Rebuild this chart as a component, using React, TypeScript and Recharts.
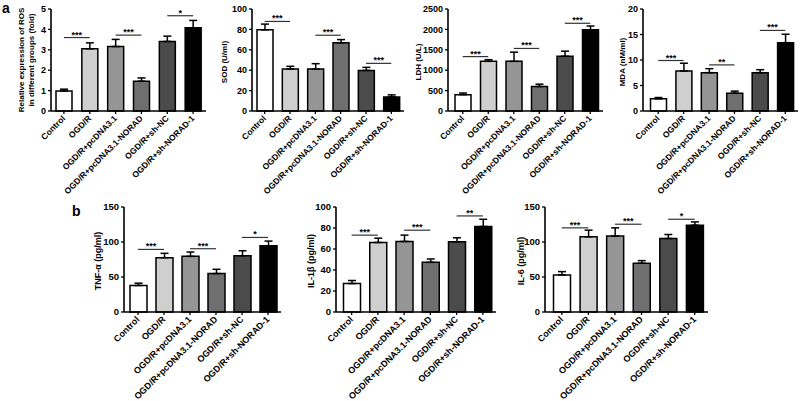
import React from 'react';
import { BarChart, Bar, XAxis, YAxis, ErrorBar, Cell, ReferenceLine } from 'recharts';

const FONT = '"Liberation Sans", Arial, sans-serif';

const groups = ['Control', 'OGD/R', 'OGD/R+pcDNA3.1', 'OGD/R+pcDNA3.1-NORAD', 'OGD/R+sh-NC', 'OGD/R+sh-NORAD-1'];
const barFills = ['#ffffff', '#cfcfcf', '#959595', '#6f6f6f', '#4b4b4b', '#000000'];

const rosMean = [0.98, 3.05, 3.16, 1.46, 3.41, 4.08];
const rosErr = [0.09, 0.29, 0.35, 0.16, 0.26, 0.36];
const rosSigY = [3.6, 3.72, 4.67];
const rosSigText = ['***', '***', '*'];
const rosTicks = [0, 1, 2, 3, 4, 5];

const sodMean = [79.6, 41.1, 41.1, 66.8, 39.8, 13.8];
const sodErr = [5.6, 2.7, 5.3, 3.2, 3.0, 2.0];
const sodSigY = [87.8, 74.3, 46.7];
const sodSigText = ['***', '***', '***'];
const sodTicks = [0, 20, 40, 60, 80, 100];

const ldhMean = [400, 1217, 1217, 600, 1342, 1992];
const ldhErr = [40, 41, 225, 58, 125, 91];
const ldhSigY = [1333, 1533, 2150];
const ldhSigText = ['***', '***', '***'];
const ldhTicks = [0, 500, 1000, 1500, 2000, 2500];

const mdaMean = [2.38, 7.85, 7.52, 3.5, 7.52, 13.4];
const mdaErr = [0.26, 1.52, 0.78, 0.4, 0.58, 1.65];
const mdaSigY = [9.9, 9.04, 15.8];
const mdaSigText = ['***', '**', '***'];
const mdaTicks = [0, 5, 10, 15, 20];

const tnfMean = [37.9, 77.6, 79.5, 54.9, 80.4, 94.6];
const tnfErr = [3.3, 6.2, 6.2, 6.1, 7.1, 6.7];
const tnfSigY = [89.4, 90.4, 106.5];
const tnfSigText = ['***', '***', '*'];
const tnfTicks = [0, 50, 100, 150];

const il1bMean = [27.1, 66.2, 67.2, 47.3, 66.9, 81.4];
const il1bErr = [2.9, 4.1, 6.0, 3.2, 3.8, 6.9];
const il1bSigY = [73.2, 77.9, 91.5];
const il1bSigText = ['***', '***', '**'];
const il1bTicks = [0, 20, 40, 60, 80, 100];

const il6Mean = [53, 107.4, 108.4, 69.6, 105, 124];
const il6Err = [4.7, 9.5, 11.8, 3.8, 5.7, 4.7];
const il6SigY = [120.2, 125.4, 132.5];
const il6SigText = ['***', '***', '*'];
const il6Ticks = [0, 50, 100, 150];

const makeXTick = (fs: number) => (props: any) => {
  const { x, y, payload } = props;
  const px = x + 2;
  const py = y + 3;
  return (
    <text x={px} y={py} transform={`rotate(-45 ${px} ${py})`} textAnchor="end" fontSize={fs}
      fontWeight="bold" fill="#000" fontFamily={FONT}>{payload.value}</text>
  );
};

type PanelProps = {
  mean: number[]; err: number[]; sigY: number[]; sigText: string[]; ticks: number[];
  axisX: number; chartTop: number; plotTop: number; plotH: number; plotW: number; padLeft: number; barSize: number;
  fs: number; xfs: number;
};

function Panel(p: PanelProps) {
  const data = groups.map((g, i) => ({ name: g, mean: p.mean[i], err: [0, p.err[i]] }));
  const yW = 40;
  const H = 201;
  const marginTop = p.plotTop - p.chartTop;
  const xH = H - marginTop - p.plotH;
  const XTick = makeXTick(p.xfs);
  return (
    <div style={{ position: 'absolute', left: p.axisX - yW, top: p.chartTop }}>
      <BarChart width={yW + p.plotW + 2} height={H} data={data}
        margin={{ top: marginTop, right: 2, left: 0, bottom: 0 }}>
        <XAxis dataKey="name" height={xH} interval={0} tick={<XTick />} tickSize={3}
          axisLine={{ stroke: '#000', strokeWidth: 1.6 }} tickLine={{ stroke: '#000', strokeWidth: 1.3 }}
          padding={{ left: p.padLeft, right: 0 }} />
        <YAxis width={yW} domain={[0, p.ticks[p.ticks.length - 1]]} ticks={p.ticks} interval={0}
          tick={{ fontSize: p.fs, fontWeight: 'bold', fill: '#000', fontFamily: FONT }} tickSize={3}
          axisLine={{ stroke: '#000', strokeWidth: 1.6 }} tickLine={{ stroke: '#000', strokeWidth: 1.3 }} />
        <Bar dataKey="mean" barSize={p.barSize} stroke="#000" strokeWidth={1.5} isAnimationActive={false}>
          {data.map((d, i) => <Cell key={i} fill={barFills[i]} />)}
          <ErrorBar dataKey="err" width={4} stroke="#000" strokeWidth={1.5} direction="y" isAnimationActive={false} />
        </Bar>
        {p.sigY.map((v, k) => (
          <ReferenceLine key={k} segment={[{ x: groups[2 * k], y: v }, { x: groups[2 * k + 1], y: v }]}
            stroke="#333" strokeWidth={1.2}
            label={{ value: p.sigText[k], position: 'top', offset: 0, fontSize: 9, fontWeight: 'bold', fill: '#000', fontFamily: FONT }} />
        ))}
      </BarChart>
    </div>
  );
}

function VTitle({ x, y, text, fs }: { x: number; y: number; text: string; fs: number }) {
  return (
    <text x={x} y={y} transform={`rotate(-90 ${x} ${y})`} textAnchor="middle" dominantBaseline="central"
      fontSize={fs} fontWeight="bold" fill="#000" fontFamily={FONT}>{text}</text>
  );
}

export default function App() {
  const top = { chartTop: 0, plotTop: 9, plotH: 102, fs: 9, xfs: 8.5 };
  const bot = { chartTop: 200, plotTop: 207, plotH: 105, fs: 9.5, xfs: 9 };
  return (
    <div style={{ position: 'fixed', left: 0, top: 0, width: 800, height: 401, background: '#fff', overflow: 'hidden' }}>
      <Panel mean={rosMean} err={rosErr} sigY={rosSigY} sigText={rosSigText} ticks={rosTicks}
        axisX={51} plotW={155} padLeft={0} barSize={16} {...top} />
      <Panel mean={sodMean} err={sodErr} sigY={sodSigY} sigText={sodSigText} ticks={sodTicks}
        axisX={252} plotW={152} padLeft={0} barSize={16} {...top} />
      <Panel mean={ldhMean} err={ldhErr} sigY={ldhSigY} sigText={ldhSigText} ticks={ldhTicks}
        axisX={448} plotW={155} padLeft={2} barSize={16} {...top} />
      <Panel mean={mdaMean} err={mdaErr} sigY={mdaSigY} sigText={mdaSigText} ticks={mdaTicks}
        axisX={643} plotW={155} padLeft={2.5} barSize={16} {...top} />
      <Panel mean={tnfMean} err={tnfErr} sigY={tnfSigY} sigText={tnfSigText} ticks={tnfTicks}
        axisX={124} plotW={157} padLeft={1} barSize={17} {...bot} />
      <Panel mean={il1bMean} err={il1bErr} sigY={il1bSigY} sigText={il1bSigText} ticks={il1bTicks}
        axisX={336} plotW={160} padLeft={2.5} barSize={17} {...bot} />
      <Panel mean={il6Mean} err={il6Err} sigY={il6SigY} sigText={il6SigText} ticks={il6Ticks}
        axisX={545} plotW={163} padLeft={3.5} barSize={17} {...bot} />
      <svg width={800} height={401} style={{ position: 'absolute', left: 0, top: 0, pointerEvents: 'none' }}>
        <text x={2} y={13} fontSize={14} fontWeight="bold" fontFamily={FONT} fill="#000">a</text>
        <text x={72} y={216} fontSize={14} fontWeight="bold" fontFamily={FONT} fill="#000">b</text>
        <VTitle x={21.5} y={60} text="Relative expression of ROS" fs={8} />
        <VTitle x={31.5} y={60} text="in different groups (fold)" fs={8} />
        <VTitle x={224} y={62} text="SOD (U/ml)" fs={8} />
        <VTitle x={418} y={62} text="LDH (U/L)" fs={8} />
        <VTitle x={622} y={62} text="MDA (nM/ml)" fs={8} />
        <VTitle x={98} y={261} text="TNF-α (pg/ml)" fs={9} />
        <VTitle x={311} y={261} text="IL-1β (pg/ml)" fs={9} />
        <VTitle x={521} y={261} text="IL-6 (pg/ml)" fs={9} />
      </svg>
    </div>
  );
}
